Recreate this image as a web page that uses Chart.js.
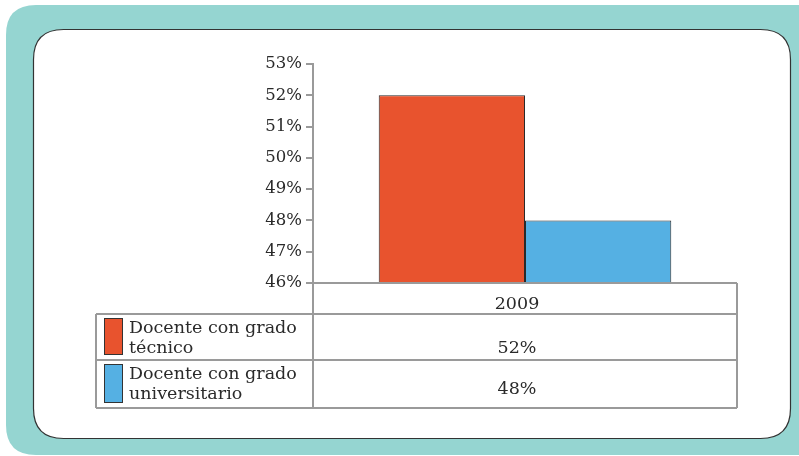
<!DOCTYPE html>
<html>
<head>
<meta charset="utf-8">
<script src="https://cdn.jsdelivr.net/npm/chart.js@4/dist/chart.umd.min.js"></script>
<style>
  html, body { margin: 0; padding: 0; background: #fff; }
  #wrap { width: 799px; height: 456px; position: relative; }
</style>
</head>
<body>
<div id="wrap"><canvas id="myChart" width="799" height="456"></canvas></div>
<script>
const years = ["2009"];
const seriesNames = [["Docente con grado", "técnico"], ["Docente con grado", "universitario"]];
const tecnico = [52];
const universitario = [48];
const yTicks = [46, 47, 48, 49, 50, 51, 52, 53];

const colors = ["#e8532e", "#55b0e3"];
const gridGrey = "#9a9a9a";
const textCol = "#2a2a2a";
const serif = "'DejaVu Serif', serif";

function roundRect(ctx, x, y, w, h, r) {
  ctx.beginPath();
  ctx.moveTo(x + r, y);
  ctx.lineTo(x + w - r, y);
  ctx.quadraticCurveTo(x + w, y, x + w, y + r);
  ctx.lineTo(x + w, y + h - r);
  ctx.quadraticCurveTo(x + w, y + h, x + w - r, y + h);
  ctx.lineTo(x + r, y + h);
  ctx.quadraticCurveTo(x, y + h, x, y + h - r);
  ctx.lineTo(x, y + r);
  ctx.quadraticCurveTo(x, y, x + r, y);
  ctx.closePath();
}

// teal frame + white card behind everything
const frame = {
  id: 'frame',
  beforeDraw(chart) {
    const c = chart.ctx;
    c.save();
    c.fillStyle = "#95d5d1";
    roundRect(c, 6, 5, 820, 450, 30);
    c.fill();
    c.fillStyle = "#fff";
    c.strokeStyle = "#333";
    c.lineWidth = 1.2;
    roundRect(c, 33.5, 29.5, 757, 409, 30);
    c.fill();
    c.stroke();
    c.restore();
  }
};

// data table under the plot
const dataTable = {
  id: 'dataTable',
  afterDraw(chart) {
    const c = chart.ctx;
    const a = chart.chartArea;
    const xs = chart.scales.x;
    const left = 96, rows = [a.bottom, 314, 360, 408];
    const cx = xs.getPixelForValue(0) - 8;
    c.save();
    c.strokeStyle = gridGrey;
    c.lineWidth = 2;
    c.beginPath();
    c.moveTo(a.left, a.bottom); c.lineTo(a.right, a.bottom);
    for (let i = 1; i < rows.length; i++) {
      c.moveTo(left, rows[i]); c.lineTo(a.right, rows[i]);
    }
    c.moveTo(left, rows[1]); c.lineTo(left, rows[3]);
    c.moveTo(a.left, a.bottom); c.lineTo(a.left, rows[3]);
    c.moveTo(a.right, a.bottom); c.lineTo(a.right, rows[3]);
    c.stroke();

    c.fillStyle = textCol;
    c.font = "17.5px " + serif;
    c.textAlign = "center";
    c.textBaseline = "middle";
    c.fillText(years[0], cx, 304);

    const vals = [tecnico[0], universitario[0]];
    const textY = [348, 389];
    vals.forEach((v, i) => {
      c.fillStyle = textCol;
      c.textAlign = "center";
      c.fillText(v + "%", cx, textY[i]);
      const top = rows[i + 1] + 4, bot = rows[i + 2] - 5;
      c.fillStyle = colors[i];
      c.fillRect(104, top, 19, bot - top);
      c.strokeStyle = "#333";
      c.lineWidth = 1;
      c.strokeRect(104.5, top + 0.5, 18, bot - top - 1);
      c.fillStyle = textCol;
      c.textAlign = "left";
      c.fillText(seriesNames[i][0], 129, top + 10);
      c.fillText(seriesNames[i][1], 129, top + 30);
    });
    c.restore();
  }
};

const ctx = document.querySelector('#myChart').getContext('2d');

new Chart(ctx, {
  type: 'bar',
  data: {
    labels: years,
    datasets: [
      { label: seriesNames[0].join(" "), data: tecnico, backgroundColor: colors[0], borderColor: "#2a2a2a", borderWidth: 1, barPercentage: 1, categoryPercentage: 0.69 },
      { label: seriesNames[1].join(" "), data: universitario, backgroundColor: colors[1], borderColor: "#2a2a2a", borderWidth: 1, barPercentage: 1, categoryPercentage: 0.69 }
    ]
  },
  options: {
    responsive: false,
    animation: false,
    layout: { padding: { left: 250, top: 64, right: 62, bottom: 173 } },
    plugins: { legend: { display: false }, tooltip: { enabled: false } },
    scales: {
      x: { display: false },
      y: {
        min: yTicks[0],
        max: yTicks[yTicks.length - 1],
        afterFit(scale) { scale.width = 63; },
        afterBuildTicks(scale) { scale.ticks = yTicks.map(v => ({ value: v })); },
        ticks: {
          callback: v => v + "%",
          color: textCol,
          font: { family: serif, size: 16.5 },
          padding: 4
        },
        grid: { drawOnChartArea: false, drawTicks: true, tickLength: 7, color: gridGrey, lineWidth: 2 },
        border: { color: gridGrey, width: 2 }
      }
    }
  },
  plugins: [frame, dataTable]
});
</script>
</body>
</html>
